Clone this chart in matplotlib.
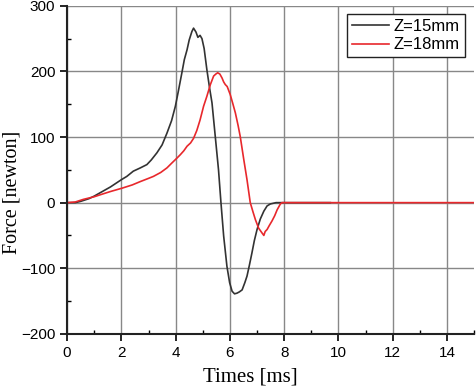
import matplotlib.pyplot as plt
from matplotlib.ticker import MultipleLocator

# Z=15mm series (black)
t15 = [0.0, 0.3, 0.5, 0.8, 1.0, 1.3, 1.6, 2.0, 2.2, 2.44, 2.7, 2.94, 3.1, 3.31,
       3.5, 3.68, 3.85, 3.99, 4.1, 4.23, 4.32, 4.42, 4.5, 4.6, 4.66, 4.75, 4.82,
       4.9, 4.97, 5.05, 5.15, 5.25, 5.34, 5.46, 5.58, 5.67, 5.77, 5.89, 5.99,
       6.08, 6.17, 6.26, 6.35, 6.45, 6.55, 6.63, 6.72, 6.81, 6.9, 7.0, 7.12,
       7.25, 7.37, 7.49, 7.7, 9.7]
f15 = [0, 0, 2, 6, 10, 17, 24, 35, 40, 48, 53, 58, 65, 76,
       88, 106, 125, 147, 170, 198, 218, 233, 248, 261, 266, 260, 252,
       255, 250, 235, 203, 175, 152, 101, 50, 0, -51, -97, -122,
       -135, -139, -138, -136, -133, -122, -112, -95, -77, -58, -41, -25,
       -13, -5, -2, 0, 0]

# Z=18mm series (red)
t18 = [0.0, 0.3, 0.6, 1.0, 1.22, 1.6, 2.02, 2.4, 2.69, 3.0, 3.18, 3.45, 3.68,
       3.85, 4.05, 4.17, 4.3, 4.42, 4.55, 4.66, 4.78, 4.9, 5.03, 5.15, 5.28,
       5.4, 5.48, 5.55, 5.63, 5.71, 5.77, 5.83, 5.9, 6.01, 6.1, 6.2, 6.3,
       6.38, 6.51, 6.63, 6.75, 6.85, 6.94, 7.06, 7.18, 7.25, 7.3, 7.37, 7.45,
       7.55, 7.65, 7.74, 7.86, 7.92, 15.0]
f18 = [0, 1, 5, 9, 12, 17, 22, 27, 32, 37, 40, 46, 53,
       60, 68, 73, 79, 86, 91, 98, 110, 126, 147, 162, 180,
       193, 196, 198, 196, 190, 184, 180, 177, 165, 152, 137, 118,
       101, 66, 35, 0, -14, -26, -39, -46, -50, -44, -41, -35,
       -28, -20, -11, -2, 0, 0]

fig = plt.figure(figsize=(4.76, 3.9), dpi=100)
ax = fig.add_axes([0.141, 0.144, 0.855, 0.841])

ax.plot(t15, f15, color='#333333', lw=1.2, label='Z=15mm')
ax.plot(t18, f18, color='#e8282c', lw=1.2, label='Z=18mm')

ax.set_xlim(0, 15)
ax.set_ylim(-200, 300)
ax.xaxis.set_major_locator(MultipleLocator(2))
ax.xaxis.set_minor_locator(MultipleLocator(1))
ax.yaxis.set_major_locator(MultipleLocator(100))
ax.yaxis.set_minor_locator(MultipleLocator(50))
ax.grid(True, which='major', color='#888888', lw=1.0)
ax.set_axisbelow(True)

for s in ['top', 'right']:
    ax.spines[s].set_visible(False)
for s in ['left', 'bottom']:
    ax.spines[s].set_linewidth(1.5)
    ax.spines[s].set_color('#222222')

ax.tick_params(which='major', direction='out', length=5, width=1.2,
               labelsize=11, labelfontfamily='Liberation Sans')
ax.tick_params(which='minor', direction='in', length=3, width=1.0)

ax.set_xlabel('Times [ms]', family='Liberation Serif', fontsize=15)
ax.set_ylabel('Force [newton]', family='Liberation Serif', fontsize=14.5)
ax.xaxis.set_label_coords(0.45, -0.102)
ax.yaxis.set_label_coords(-0.112, 0.43)

leg = ax.legend(loc='upper right', bbox_to_anchor=(0.985, 0.985), fancybox=False,
                prop={'family': 'Liberation Sans', 'size': 12}, handlelength=2.2,
                borderpad=0.3, labelspacing=0.2, handletextpad=0.3,
                borderaxespad=0.2, framealpha=1)
leg.get_frame().set_edgecolor('#222222')
leg.get_frame().set_linewidth(1.0)

fig.savefig('out.png', dpi=100)
